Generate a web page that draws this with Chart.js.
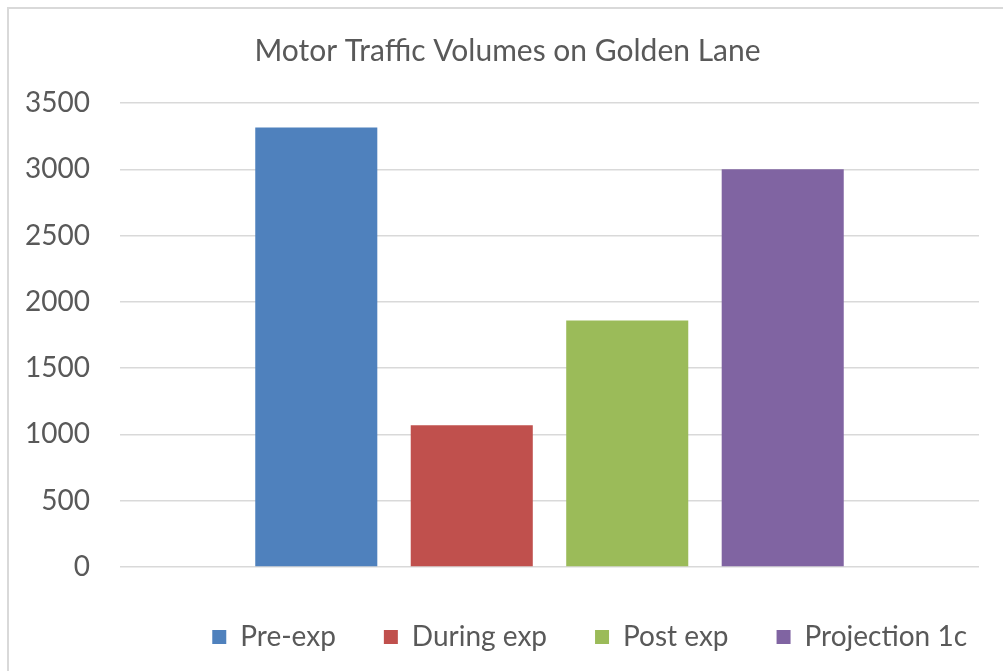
<!DOCTYPE html>
<html>
<head>
<meta charset="utf-8">
<script src="https://cdn.jsdelivr.net/npm/chart.js@4"></script>
<style>
  html, body { margin: 0; padding: 0; background: #fff; overflow: hidden; }
  #frame { position: absolute; left: 7px; top: 7px; width: 1200px; height: 900px; border: 2px solid #d9d9d9; }
  #wrap { position: absolute; left: 0; top: 0; width: 1003px; height: 671px; }
</style>
</head>
<body>
<div id="frame"></div>
<div id="wrap"><canvas id="myChart"></canvas></div>
<script>
const categories = ['']
const seriesNames = ['Pre-exp', 'During exp', 'Post exp', 'Projection 1c']
const seriesValues = [3315, 1070, 1860, 3000]
const seriesColors = ['#4F81BD', '#C0504D', '#9BBB59', '#8064A2']
const yTicks = [0, 500, 1000, 1500, 2000, 2500, 3000, 3500]

const fontFamily = 'Lato, "Liberation Sans", sans-serif'
const textColor = '#595959'

const datasets = seriesNames.map((name, i) => ({
  label: name,
  data: [seriesValues[i]],
  backgroundColor: seriesColors[i],
  borderWidth: 0,
  categoryPercentage: 0.724,
  barPercentage: 0.785,
}))

// excel puts title and legend a bit right of center, nudge them over
const boxShift = {
  id: 'boxShift',
  afterLayout: chart => {
    chart.titleBlock.left += 18
    chart.titleBlock.right += 18
    chart.legend.left += 36
    chart.legend.right += 36
  }
}

let ctx = document.getElementById('myChart').getContext('2d');
let chart = new Chart(ctx, {
  type: 'bar',
  data: {
    labels: categories,
    datasets: datasets
  },
  plugins: [boxShift],
  options: {
    responsive: true,
    maintainAspectRatio: false,
    animation: false,
    layout: {
      padding: { left: 0, right: 24, top: 25, bottom: 10 }
    },
    scales: {
      x: {
        grid: { display: false },
        border: { display: false },
        ticks: { display: false }
      },
      y: {
        min: 0,
        max: 3500,
        afterBuildTicks: scale => {
          scale.ticks = yTicks.map(v => ({ value: v }))
        },
        afterFit: scale => {
          scale.width = 120
        },
        border: { display: false },
        grid: { color: '#d9d9d9', lineWidth: 1.5, drawTicks: false },
        ticks: {
          color: textColor,
          padding: 30,
          font: { family: fontFamily, size: 28 },
          callback: v => String(v)
        }
      }
    },
    plugins: {
      title: {
        display: true,
        text: 'Motor Traffic Volumes on Golden Lane',
        color: textColor,
        font: { family: fontFamily, size: 30, weight: 'normal' },
        padding: { top: 8, bottom: 34 }
      },
      legend: {
        position: 'bottom',
        align: 'end',
        labels: {
          color: textColor,
          boxWidth: 14,
          boxHeight: 14,
          padding: 48,
          font: { family: fontFamily, size: 28 }
        }
      },
      tooltip: { enabled: false }
    }
  }
});
</script>
</body>
</html>
